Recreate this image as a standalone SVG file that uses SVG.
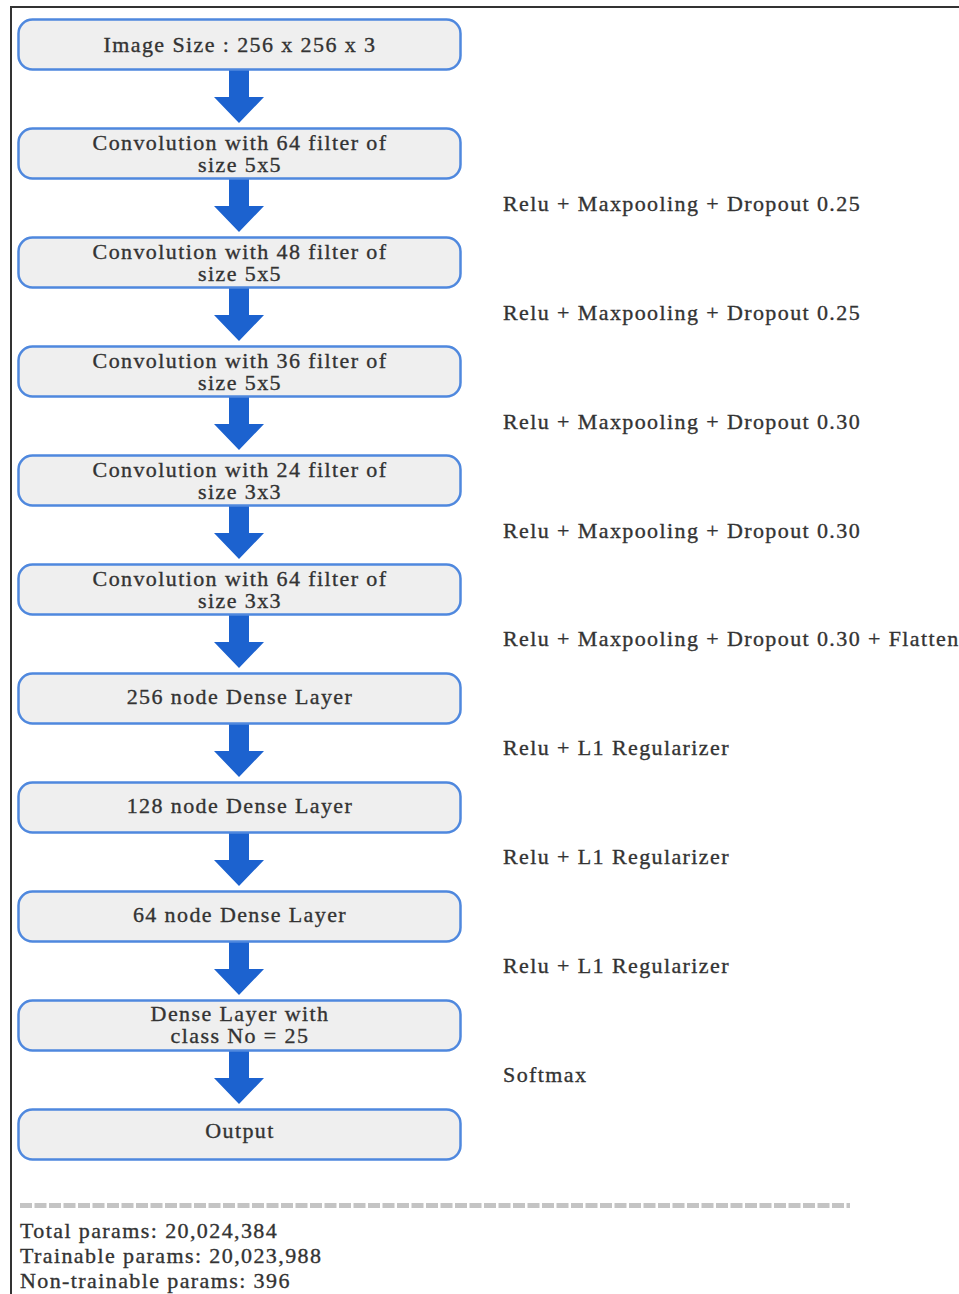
<svg xmlns="http://www.w3.org/2000/svg" width="959" height="1294" viewBox="0 0 959 1294">
<defs>
<style>
.box{fill:#efefef;stroke:#4f88de;stroke-width:2.5}
.arr{fill:#1c62cf}
.t{font-family:"Liberation Serif","Times New Roman",serif;font-size:22px;letter-spacing:1.4px;fill:#333;stroke:#333;stroke-width:0.35}
.c{text-anchor:middle}
</style>
<path id="ar" d="M229,70 H249 V97 H264 L239,123 L214,97 H229 Z"/>
</defs>
<rect x="0" y="0" width="959" height="1294" fill="#ffffff"/>
<path d="M11,1294 V7 H959" fill="none" stroke="#333" stroke-width="2"/>
<g id="connectors" class="arr">
<use href="#ar"/>
<use href="#ar" y="109"/>
<use href="#ar" y="218"/>
<use href="#ar" y="327"/>
<use href="#ar" y="436"/>
<use href="#ar" y="545"/>
<use href="#ar" y="654"/>
<use href="#ar" y="763"/>
<use href="#ar" y="872"/>
<use href="#ar" y="981"/>
</g>
<g id="n1"><rect class="box" x="18.5" y="19.5" width="442" height="50" rx="14"/><text class="t c" x="240" y="52">Image Size : 256 x 256 x 3</text></g>
<g id="n2"><rect class="box" x="18.5" y="128.5" width="442" height="50" rx="14"/><text class="t c" x="240" y="150">Convolution with 64 filter of</text><text class="t c" x="240" y="172">size 5x5</text></g>
<g id="n3"><rect class="box" x="18.5" y="237.5" width="442" height="50" rx="14"/><text class="t c" x="240" y="259">Convolution with 48 filter of</text><text class="t c" x="240" y="281">size 5x5</text></g>
<g id="n4"><rect class="box" x="18.5" y="346.5" width="442" height="50" rx="14"/><text class="t c" x="240" y="368">Convolution with 36 filter of</text><text class="t c" x="240" y="390">size 5x5</text></g>
<g id="n5"><rect class="box" x="18.5" y="455.5" width="442" height="50" rx="14"/><text class="t c" x="240" y="477">Convolution with 24 filter of</text><text class="t c" x="240" y="499">size 3x3</text></g>
<g id="n6"><rect class="box" x="18.5" y="564.5" width="442" height="50" rx="14"/><text class="t c" x="240" y="586">Convolution with 64 filter of</text><text class="t c" x="240" y="608">size 3x3</text></g>
<g id="n7"><rect class="box" x="18.5" y="673.5" width="442" height="50" rx="14"/><text class="t c" x="240" y="704">256 node Dense Layer</text></g>
<g id="n8"><rect class="box" x="18.5" y="782.5" width="442" height="50" rx="14"/><text class="t c" x="240" y="813">128 node Dense Layer</text></g>
<g id="n9"><rect class="box" x="18.5" y="891.5" width="442" height="50" rx="14"/><text class="t c" x="240" y="922">64 node Dense Layer</text></g>
<g id="n10"><rect class="box" x="18.5" y="1000.5" width="442" height="50" rx="14"/><text class="t c" x="240" y="1021">Dense Layer with</text><text class="t c" x="240" y="1043">class No = 25</text></g>
<g id="n11"><rect class="box" x="18.5" y="1109.5" width="442" height="50" rx="14"/><text class="t c" x="240" y="1138">Output</text></g>
<g id="labels">
<text class="t" x="503" y="211">Relu + Maxpooling + Dropout 0.25</text>
<text class="t" x="503" y="320">Relu + Maxpooling + Dropout 0.25</text>
<text class="t" x="503" y="429">Relu + Maxpooling + Dropout 0.30</text>
<text class="t" x="503" y="538">Relu + Maxpooling + Dropout 0.30</text>
<text class="t" x="503" y="646">Relu + Maxpooling + Dropout 0.30 + Flatten</text>
<text class="t" x="503" y="755">Relu + L1 Regularizer</text>
<text class="t" x="503" y="864">Relu + L1 Regularizer</text>
<text class="t" x="503" y="973">Relu + L1 Regularizer</text>
<text class="t" x="503" y="1082">Softmax</text>
</g>
<line x1="20" y1="1205.5" x2="850" y2="1205.5" stroke="#c4c4c4" stroke-width="5" stroke-dasharray="12,2.5"/>
<g id="summary">
<text class="t" x="20" y="1238">Total params: 20,024,384</text>
<text class="t" x="20" y="1263">Trainable params: 20,023,988</text>
<text class="t" x="20" y="1288">Non-trainable params: 396</text>
</g>
</svg>
